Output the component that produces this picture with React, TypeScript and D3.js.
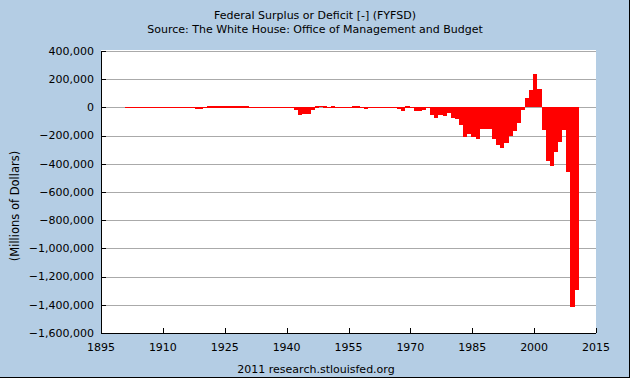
import React from "react";
import * as d3 from "d3";

const startYear = 1901;
const surplus: number[] = [
  63, 77, 45, -43, -23, 25, 87, -57, -89, -18,
  11, 3, -0.4, -0.4, -63, 48, -853, -9032, -13363, 291,
  509, 736, 713, 963, 717, 865, 1155, 939, 734, 738,
  -462, -2735, -2602, -3586, -2803, -4304, -2193, -89, -2846, -2920,
  -4941, -20503, -54554, -47557, -47553, -15936, 4018, 11796, 580, -3119,
  6102, -1519, -6493, -1154, -2993, 3947, 3412, -2769, -12849, 301,
  -3335, -7146, -4756, -5915, -1411, -3698, -8643, -25161, 3242, -2842,
  -23033, -23373, -14908, -6135, -53242, -73732, -53659, -59185, -40726, -73830,
  -78968, -127977, -207802, -185367, -212308, -221227, -149730, -155178, -152639, -221036,
  -269238, -290321, -255051, -203186, -163952, -107431, -21884, 69270, 125610, 236241,
  128236, -157758, -377585, -412727, -318346, -248181, -160701, -458553, -1412686, -1293489,
];
const years: number[] = surplus.map((_, i) => startYear + i);

const xTicks: number[] = [1895, 1910, 1925, 1940, 1955, 1970, 1985, 2000, 2015];
const yTicks: number[] = [400000, 200000, 0, -200000, -400000, -600000, -800000, -1000000, -1200000, -1400000, -1600000];

const title1 = "Federal Surplus or Deficit [-] (FYFSD)";
const title2 = "Source: The White House: Office of Management and Budget";
const yLabel = "(Millions of Dollars)";
const footer = "2011 research.stlouisfed.org";

const W = 630, H = 378;
const L = 101, R = 596, T = 51, B = 333;

export default function App() {
  const x = d3.scaleLinear().domain([1895, 2015]).range([L, R]);
  const y = d3.scaleLinear().domain([-1600000, 400000]).range([B, T]);
  const fmt = d3.format(",");
  const font = "'DejaVu Sans', Verdana, sans-serif";
  const y0 = y(0);
  return (
    <svg width={W} height={H} style={{ position: "absolute", left: 0, top: 0 }} fontFamily={font}>
      <rect x={0} y={0} width={W} height={H} fill="#b4cde4" />
      <line x1={W - 0.5} y1={0} x2={W - 0.5} y2={H} stroke="#000" />
      <line x1={0} y1={H - 0.5} x2={W} y2={H - 0.5} stroke="#000" />
      <rect x={L} y={T - 1} width={R - L} height={B - T + 1} fill="#fff" />
      {yTicks.map((t) => (
        <line key={"g" + t} x1={L} x2={R} y1={Math.round(y(t)) + 0.5} y2={Math.round(y(t)) + 0.5} stroke="#aaaaaa" />
      ))}
      {years.map((yr, i) => {
        const v = surplus[i];
        const x0 = x(yr - 0.2);
        const x1 = x(yr + 0.8);
        const yv = y(v);
        let top = Math.min(y0, yv);
        let h = Math.abs(yv - y0);
        if (h < 1) {
          h = v > 500 ? 2 : 1;
          top = v > 500 ? y0 - 1.5 : y0 - 0.5;
        }
        return <rect key={yr} x={x0} y={top} width={x1 - x0} height={h} fill="#ff0000" shapeRendering="crispEdges" />;
      })}
      <line x1={L + 0.5} x2={L + 0.5} y1={T} y2={B} stroke="#000" />
      <line x1={L} x2={R} y1={B + 0.5} y2={B + 0.5} stroke="#000" />
      {yTicks.map((t) => (
        <g key={"y" + t}>
          <line x1={L} x2={L + 5} y1={Math.round(y(t)) + 0.5} y2={Math.round(y(t)) + 0.5} stroke="#000" />
          <text x={94} y={y(t)} dy="0.35em" textAnchor="end" fontSize={11} fill="#000">{fmt(t)}</text>
        </g>
      ))}
      {xTicks.map((t) => (
        <g key={"x" + t}>
          <line x1={Math.round(x(t)) + 0.5} x2={Math.round(x(t)) + 0.5} y1={B} y2={B - 5} stroke="#000" />
          <text x={x(t)} y={350.5} textAnchor="middle" fontSize={11} fill="#000">{t}</text>
        </g>
      ))}
      <text x={315} y={19} textAnchor="middle" fontSize={11} fill="#000">{title1}</text>
      <text x={315} y={33} textAnchor="middle" fontSize={11} fill="#000">{title2}</text>
      <text transform={`translate(19,206) rotate(-90)`} textAnchor="middle" fontSize={11.5} fill="#000">{yLabel}</text>
      <text x={316} y={373} textAnchor="middle" fontSize={11} fill="#000">{footer}</text>
    </svg>
  );
}
